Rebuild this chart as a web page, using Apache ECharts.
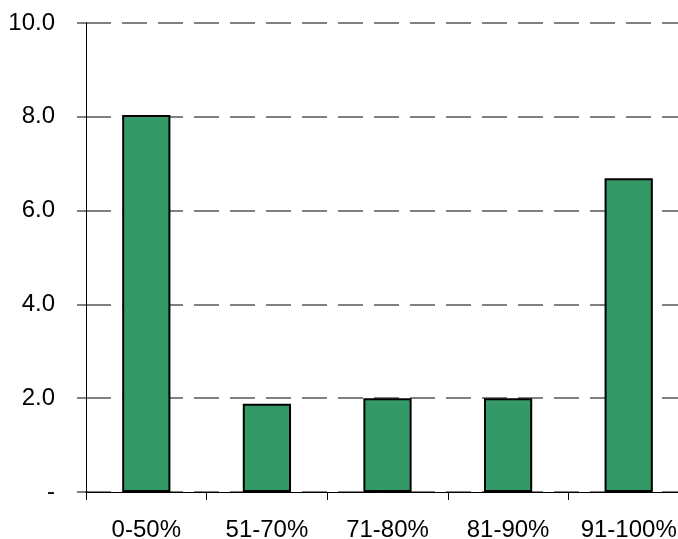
<!DOCTYPE html>
<html><head><meta charset="utf-8">
<script src="https://cdn.jsdelivr.net/npm/echarts@6/dist/echarts.min.js"></script>
<style>html,body{margin:0;padding:0;background:#fff}#c{width:678px;height:539px}</style>
</head><body><div id="c"></div>
<script>
const categories = ['0-50%', '51-70%', '71-80%', '81-90%', '91-100%'];
const values = [8.04, 1.88, 2.0, 2.0, 6.69];
const yMin = 0, yMax = 10, yStep = 2;

const chart = echarts.init(document.getElementById('c'), null, {renderer: 'canvas'});
chart.setOption({
  animation: false,
  grid: {left: 86, width: 603, top: 23, height: 469, containLabel: false, outerBoundsMode: 'none'},
  xAxis: {
    type: 'category', data: categories, z: 5,
    axisLine: {lineStyle: {color: '#000', width: 1}},
    axisTick: {show: true, length: 8, lineStyle: {color: '#000'}},
    axisLabel: {color: '#000', fontFamily: 'Liberation Sans', fontSize: 24, margin: 26, interval: 0, hideOverlap: false}
  },
  yAxis: {
    type: 'value', min: yMin, max: yMax, interval: yStep,
    axisLine: {show: true, lineStyle: {color: '#000', width: 1}},
    axisTick: {show: true, length: 9, lineStyle: {color: '#808080', width: 2}},
    axisLabel: {color: '#000', fontFamily: 'Liberation Sans', fontSize: 24, margin: 31,
      formatter: v => v === 0 ? '-' : v.toFixed(1)},
    splitLine: {show: true, lineStyle: {color: '#808080', width: 2, type: [25, 11]}}
  },
  series: [{
    type: 'bar', data: values, barWidth: '40%',
    itemStyle: {color: '#339966', borderColor: '#000', borderWidth: 2}
  }]
});
</script></body></html>
